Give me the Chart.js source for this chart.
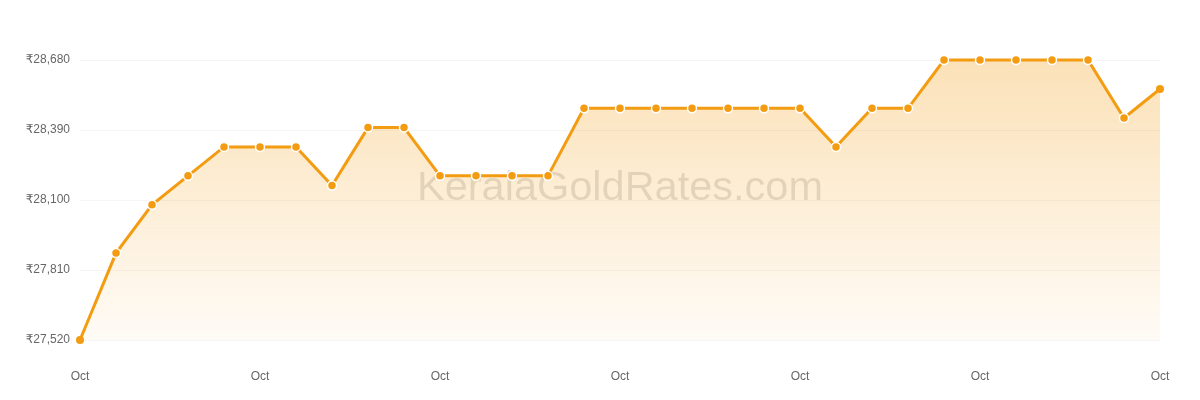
<!DOCTYPE html>
<html>
<head>
<meta charset="utf-8">
<script src="https://cdn.jsdelivr.net/npm/chart.js@4"></script>
<style>
  html, body { margin: 0; padding: 0; background: #fff; }
  #wrap { width: 1200px; height: 400px; }
</style>
</head>
<body>
<div id="wrap"><canvas id="c" width="1200" height="400"></canvas></div>
<script>
const categories = ['1 Oct','2 Oct','3 Oct','4 Oct','5 Oct','6 Oct','7 Oct','8 Oct','9 Oct','10 Oct',
  '11 Oct','12 Oct','13 Oct','14 Oct','15 Oct','16 Oct','17 Oct','18 Oct','19 Oct','20 Oct',
  '21 Oct','22 Oct','23 Oct','24 Oct','25 Oct','26 Oct','27 Oct','28 Oct','29 Oct','30 Oct','31 Oct'];
const prices = [27520, 27880, 28080, 28200, 28320, 28320, 28320, 28160, 28400, 28400,
  28200, 28200, 28200, 28200, 28480, 28480, 28480, 28480, 28480, 28480,
  28480, 28320, 28480, 28480, 28680, 28680, 28680, 28680, 28680, 28440, 28560];
const yTicks = [27520, 27810, 28100, 28390, 28680];
const xTickLabel = 'Oct';
const watermark = 'KeralaGoldRates.com';

const lineColor = '#f39c12';

const watermarkPlugin = {
  id: 'watermark',
  beforeDatasetsDraw(chart) {
    const {ctx, chartArea} = chart;
    ctx.save();
    ctx.font = '41.5px "Liberation Sans", Arial, sans-serif';
    ctx.fillStyle = 'rgba(0,0,0,0.125)';
    ctx.textAlign = 'center';
    ctx.textBaseline = 'alphabetic';
    ctx.fillText(watermark, (chartArea.left + chartArea.right) / 2, chartArea.top + (chartArea.bottom - chartArea.top) * 0.5);
    ctx.restore();
  }
};

const ctx = document.getElementById('c').getContext('2d');
new Chart(ctx, {
  type: 'line',
  data: {
    labels: categories,
    datasets: [{
      data: prices,
      borderColor: lineColor,
      borderWidth: 3,
      tension: 0,
      fill: 'start',
      backgroundColor: (c) => {
        const area = c.chart.chartArea;
        if (!area) return 'rgba(243,156,18,0.2)';
        const g = c.chart.ctx.createLinearGradient(0, area.top, 0, area.bottom);
        g.addColorStop(0, 'rgba(243,156,18,0.30)');
        g.addColorStop(1, 'rgba(243,156,18,0.04)');
        return g;
      },
      pointRadius: (c) => (c.dataIndex === 0 || c.dataIndex === prices.length - 1) ? 4 : 4.5,
      pointBackgroundColor: lineColor,
      pointBorderColor: '#ffffff',
      pointBorderWidth: (c) => (c.dataIndex === 0 || c.dataIndex === prices.length - 1) ? 0 : 1.5,
      clip: false
    }]
  },
  options: {
    responsive: false,
    animation: false,
    layout: { padding: { top: 60, right: 40, left: 0, bottom: 0 } },
    plugins: { legend: { display: false }, tooltip: { enabled: false } },
    scales: {
      x: {
        grid: { display: false, drawTicks: false },
        border: { display: false },
        afterFit(s) { s.height = 60; },
        ticks: {
          autoSkip: false,
          maxRotation: 0,
          padding: 29,
          color: '#666',
          font: { family: '"Liberation Sans", Arial, sans-serif', size: 12 },
          callback: (v, i) => (i % 5 === 0 ? xTickLabel : null)
        }
      },
      y: {
        min: yTicks[0],
        max: yTicks[yTicks.length - 1],
        afterFit(s) { s.width = 80; },
        afterBuildTicks(s) { s.ticks = yTicks.map(v => ({ value: v })); },
        grid: { color: 'rgba(0,0,0,0.04)', drawTicks: false },
        border: { display: false },
        ticks: {
          padding: 10,
          color: '#666',
          font: { family: '"Liberation Sans", "DejaVu Sans", Arial, sans-serif', size: 12 },
          callback: (v) => '₹' + v.toLocaleString('en-US')
        }
      }
    }
  },
  plugins: [watermarkPlugin]
});
</script>
</body>
</html>
